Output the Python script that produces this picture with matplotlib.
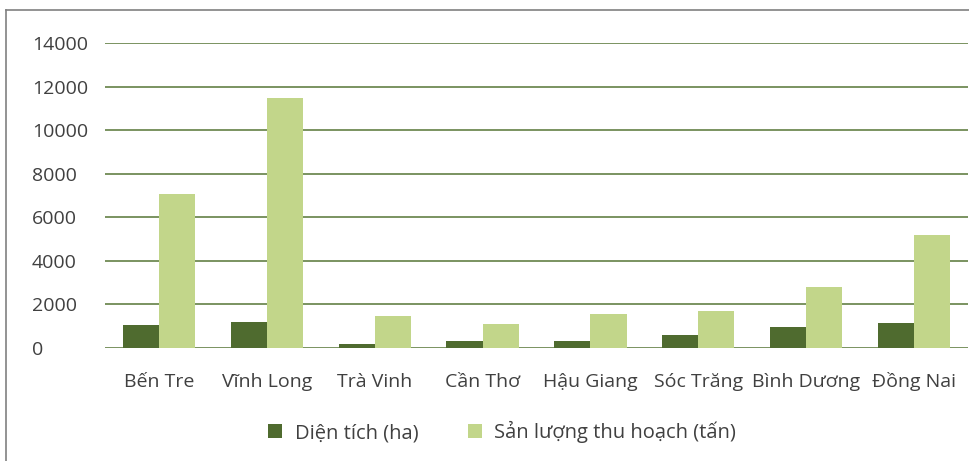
import matplotlib
matplotlib.use("Agg")
import matplotlib.pyplot as plt
from matplotlib.lines import Line2D
import numpy as np

provinces = ["Bến Tre", "Vĩnh Long", "Trà Vinh", "Cần Thơ", "Hậu Giang",
             "Sóc Trăng", "Bình Dương", "Đồng Nai"]
dien_tich = [1070, 1210, 200, 336, 336, 612, 950, 1135]
san_luong = [7050, 11460, 1485, 1117, 1577, 1715, 2790, 5180]
y_ticks = [0, 2000, 4000, 6000, 8000, 10000, 12000, 14000]

plt.rcParams['font.family'] = ['Open Sans', 'DejaVu Sans']

fig = plt.figure(figsize=(9.7, 4.61), dpi=100)
W, H = 970, 461
ax = fig.add_axes([105 / W, 1 - 348 / H, (968 - 105) / W, (348 - 43) / H])

x = np.arange(len(provinces))
w = 0.335
ax.bar(x - w / 2, dien_tich, width=w, color='#4F6B2F', label='Diện tích (ha)', zorder=3)
ax.bar(x + w / 2, san_luong, width=w, color='#C2D68A', label='Sản lượng thu hoạch (tấn)', zorder=3)

ax.set_xlim(-0.5, len(provinces) - 0.5)
ax.set_ylim(0, 14000)
ax.set_yticks(y_ticks)
ax.set_yticklabels([str(v) for v in y_ticks])
ax.set_xticks(x)
ax.set_xticklabels(provinces, va='baseline')
ax.grid(axis='y', color='#7A9360', linewidth=1.4, zorder=0)
for s in ax.spines.values():
    s.set_visible(False)
ax.tick_params(axis='both', length=0, labelsize=14, colors='#404040')
ax.tick_params(axis='x', pad=28)
for lab in ax.get_yticklabels():
    lab.set_horizontalalignment('left')
    lab.set_x(-(105 - 32) / (968 - 105))
ax.tick_params(axis='y', pad=0)

leg = fig.legend(loc='center', bbox_to_anchor=(502 / W, 1 - 432 / H), ncol=2,
                 frameon=False, fontsize=14.5, handlelength=0.7, handleheight=0.7,
                 columnspacing=2.45, handletextpad=0.6)
for t in leg.get_texts():
    t.set_color('#404040')

# outer chart frame (left and top edges)
fig.add_artist(Line2D([6.5 / W, 6.5 / W], [0, 1 - 10.5 / H], transform=fig.transFigure,
                      color='#808080', linewidth=1.2))
fig.add_artist(Line2D([6.5 / W, 1], [1 - 10.5 / H, 1 - 10.5 / H], transform=fig.transFigure,
                      color='#808080', linewidth=1.2))

plt.savefig("out.png", dpi=100)
